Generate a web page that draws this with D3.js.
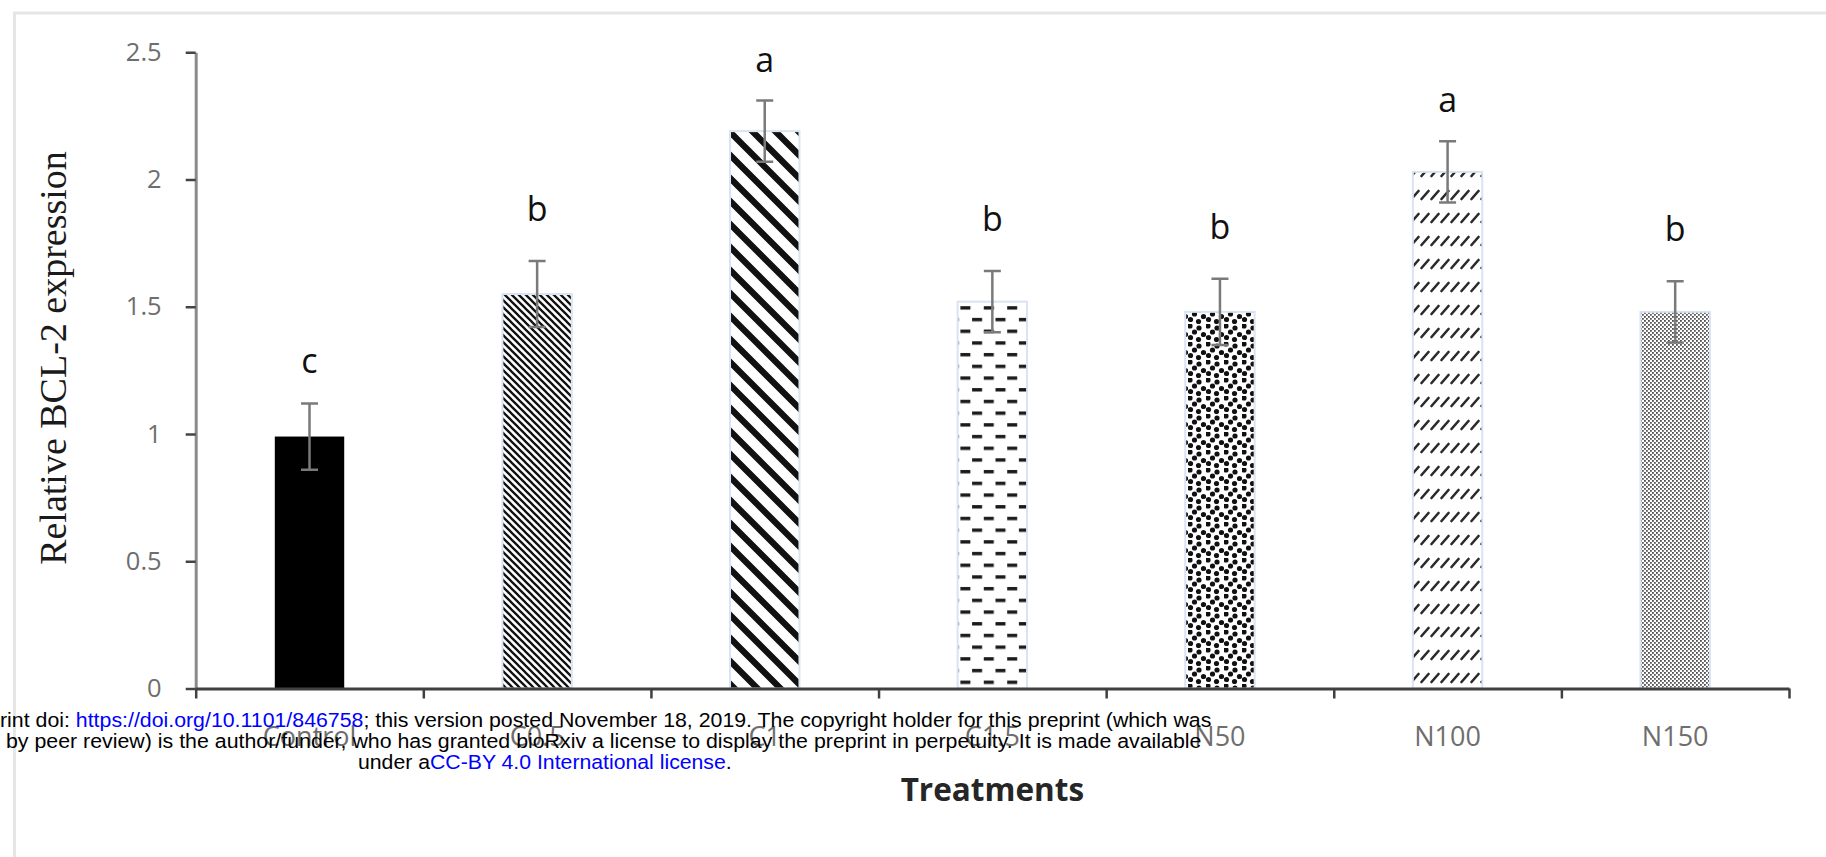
<!DOCTYPE html>
<html>
<head>
<meta charset="utf-8">
<title>Relative BCL-2 expression by treatment</title>
<script src="https://cdn.jsdelivr.net/npm/d3@7"></script>
<style>
  html, body { margin: 0; padding: 0; background: #fff; overflow: hidden; }
  svg { display: block; }
</style>
</head>
<body>
<svg id="chart" width="1826" height="857"></svg>
<script>
// ---- data ----
const treatments    = ["Control", "C0.5", "C1", "C1.5", "N50", "N100", "N150"];
const expression    = [0.99, 1.55, 2.19, 1.52, 1.48, 2.03, 1.48];
const stdError      = [0.13, 0.13, 0.12, 0.12, 0.13, 0.12, 0.12];
const groupLetters  = ["c", "b", "a", "b", "b", "a", "b"];
const yTickValues   = [0, 0.5, 1, 1.5, 2, 2.5];

// ---- layout ----
const W = 1826, H = 857;
const plot = { left: 195.7, right: 1789, top: 52.25, bottom: 688.5 };
const barShare = 0.305;          // bar width as a share of each category slot
const labelFont = "'Open Sans', 'Liberation Sans', sans-serif";
// baseline gap above the error cap: letters with ascenders sit a little higher
const letterGap = { a: 29, b: 40, c: 30 };

const svg = d3.select("#chart");

// light frame around the figure panel
svg.append("rect")
  .attr("x", 14.5).attr("y", 13)
  .attr("width", W + 40).attr("height", H + 40)
  .attr("fill", "none").attr("stroke", "#e6e6e6").attr("stroke-width", 3);

// ---- scales ----
const x = d3.scaleBand().domain(treatments).range([plot.left, plot.right]).padding(0);
const xEdge = d3.scaleLinear().domain([0, treatments.length]).range([plot.left, plot.right]);
const y = d3.scaleLinear().domain([0, 2.5]).range([plot.bottom, plot.top]);

// ---- fill patterns (one per treatment) ----
const defs = svg.append("defs");
function pattern(id, w, h) {
  return defs.append("pattern").attr("id", id)
    .attr("patternUnits", "userSpaceOnUse")
    .attr("width", w).attr("height", h);
}
// narrow downward diagonal
pattern("fineDown", 7, 7).append("path")
  .attr("d", "M-1,-1L8,8M-2,5L2,9M5,-2L9,2")
  .attr("stroke", "#111").attr("stroke-width", 2.3);
// wide downward diagonal
pattern("wideDown", 23, 23).append("path")
  .attr("d", "M-2,-2L25,25M-6,17L6,29M17,-6L29,6")
  .attr("stroke", "#111").attr("stroke-width", 6.3);
// dashed horizontal
{
  const p = pattern("dashH", 23.4, 23.4);
  p.append("rect").attr("x", 1).attr("y", 2).attr("width", 10).attr("height", 3.4).attr("fill", "#1a1a1a");
  p.append("rect").attr("x", 12.7).attr("y", 13.7).attr("width", 10).attr("height", 3.4).attr("fill", "#1a1a1a");
}
// large confetti
{
  const p = pattern("confetti", 18, 18);
  [[2, 2], [11, 4], [6.5, 8], [15.5, 10.5], [2.5, 13.5], [10.5, 15.5]].forEach(([cx, cy]) =>
    p.append("circle").attr("cx", cx).attr("cy", cy).attr("r", 2.6).attr("fill", "#111"));
}
// dashed upward diagonal
pattern("dashUp", 10, 23).append("path")
  .attr("d", "M1.5,15L8.5,7")
  .attr("stroke", "#2b2b2b").attr("stroke-width", 2.6).attr("stroke-linecap", "round");
// fine dotted grid
{
  const p = pattern("dotGrid", 4, 4);
  p.append("rect").attr("x", 0).attr("y", 0).attr("width", 1.8).attr("height", 1.8).attr("fill", "#4d4d4d");
  p.append("rect").attr("x", 2).attr("y", 2).attr("width", 1.8).attr("height", 1.8).attr("fill", "#5a5a5a");
}
const barFill = ["#000", "url(#fineDown)", "url(#wideDown)", "url(#dashH)",
                 "url(#confetti)", "url(#dashUp)", "url(#dotGrid)"];

// ---- bars ----
const rows = treatments.map((t, i) => ({
  t, v: expression[i], e: stdError[i], letter: groupLetters[i], i
}));
const bw = x.bandwidth() * barShare;
const cx = d => x(d.t) + x.bandwidth() / 2;

const bars = svg.append("g");
bars.selectAll("rect")
  .data(rows)
  .join("rect")
  .attr("x", d => cx(d) - bw / 2)
  .attr("y", d => y(d.v))
  .attr("width", bw)
  .attr("height", d => y(0) - y(d.v))
  .attr("fill", d => barFill[d.i])
  .attr("stroke", d => d.i === 0 ? "none" : "#d9e4f2")
  .attr("stroke-width", 2);

// ---- error bars ----
const capHalf = 8.5;
const err = svg.append("g").attr("stroke", "#7a7a7a").attr("stroke-width", 2.5).attr("fill", "none");
err.selectAll("path")
  .data(rows)
  .join("path")
  .attr("d", d => {
    const c = cx(d), t = y(d.v + d.e), b = y(d.v - d.e);
    return `M${c},${t}V${b}M${c - capHalf},${t}H${c + capHalf}M${c - capHalf},${b}H${c + capHalf}`;
  });

// ---- y axis ----
const yAxis = svg.append("g")
  .attr("transform", `translate(${plot.left},0)`)
  .call(d3.axisLeft(y).tickValues(yTickValues).tickFormat(d3.format("")).tickSize(10).tickSizeOuter(0).tickPadding(24));
yAxis.select(".domain").attr("stroke", "#8a8a8a").attr("stroke-width", 3);
yAxis.selectAll(".tick line").attr("stroke", "#444").attr("stroke-width", 2.5);
yAxis.selectAll(".tick text")
  .attr("fill", "#6e6e6e")
  .style("font-family", labelFont).style("font-size", "25.5px");

// ---- x axis: boundary ticks ----
const xAxis = svg.append("g")
  .attr("transform", `translate(0,${plot.bottom})`)
  .call(d3.axisBottom(xEdge).tickValues(d3.range(treatments.length + 1)).tickFormat("").tickSize(10).tickSizeOuter(0));
xAxis.select(".domain").attr("stroke", "#404040").attr("stroke-width", 3.2);
xAxis.selectAll(".tick line").attr("stroke", "#404040").attr("stroke-width", 2.5);

// ---- x axis: category names ----
const xLabels = svg.append("g")
  .attr("transform", `translate(0,${plot.bottom})`)
  .call(d3.axisBottom(x).tickSize(0).tickPadding(38));
xLabels.select(".domain").remove();
xLabels.selectAll(".tick text")
  .attr("fill", "#6e6e6e")
  .style("font-family", labelFont).style("font-size", "27px");

// ---- significance letters ----
svg.append("g").selectAll("text")
  .data(rows)
  .join("text")
  .attr("x", cx)
  .attr("y", d => y(d.v + d.e) - letterGap[d.letter])
  .attr("text-anchor", "middle")
  .attr("fill", "#111")
  .style("font-family", labelFont).style("font-size", "34px")
  .text(d => d.letter);

// ---- axis titles ----
svg.append("text")
  .attr("transform", `translate(66,358) rotate(-90)`)
  .attr("text-anchor", "middle")
  .attr("fill", "#1a1a1a")
  .style("font-family", "'Liberation Serif', 'Times New Roman', serif")
  .style("font-size", "38px")
  .text("Relative BCL-2 expression");

svg.append("text")
  .attr("x", (plot.left + plot.right) / 2)
  .attr("y", 801)
  .attr("text-anchor", "middle")
  .attr("fill", "#262626")
  .style("font-family", labelFont).style("font-size", "31.5px").style("font-weight", 700)
  .text("Treatments");

// ---- preprint notice ----
const notice = [
  { y: 727.5, x0: 0, x1: 1212, parts: [
      ["rint doi: ", "#000"],
      ["https://doi.org/10.1101/846758", "#0000ff"],
      ["; this version posted November 18, 2019. The copyright holder for this preprint (which was", "#000"]] },
  { y: 748.5, x0: 6, x1: 1202, parts: [
      ["by peer review) is the author/funder, who has granted bioRxiv a license to display the preprint in perpetuity. It is made available", "#000"]] },
  { y: 769.5, x0: 358, x1: 732, parts: [
      ["under a", "#000"],
      ["CC-BY 4.0 International license", "#0000ff"],
      [".", "#000"]] }
];
const noticeG = svg.append("g");
notice.forEach(line => {
  const t = noticeG.append("text")
    .attr("x", 0).attr("y", line.y)
    .style("font-family", "'Liberation Sans', Arial, sans-serif")
    .style("font-size", "19.5px");
  line.parts.forEach(([s, c]) => t.append("tspan").attr("fill", c).text(s));
  const natural = t.node().getComputedTextLength();
  t.attr("transform", `translate(${line.x0},0) scale(${(line.x1 - line.x0) / natural},1)`);
});
</script>
</body>
</html>
